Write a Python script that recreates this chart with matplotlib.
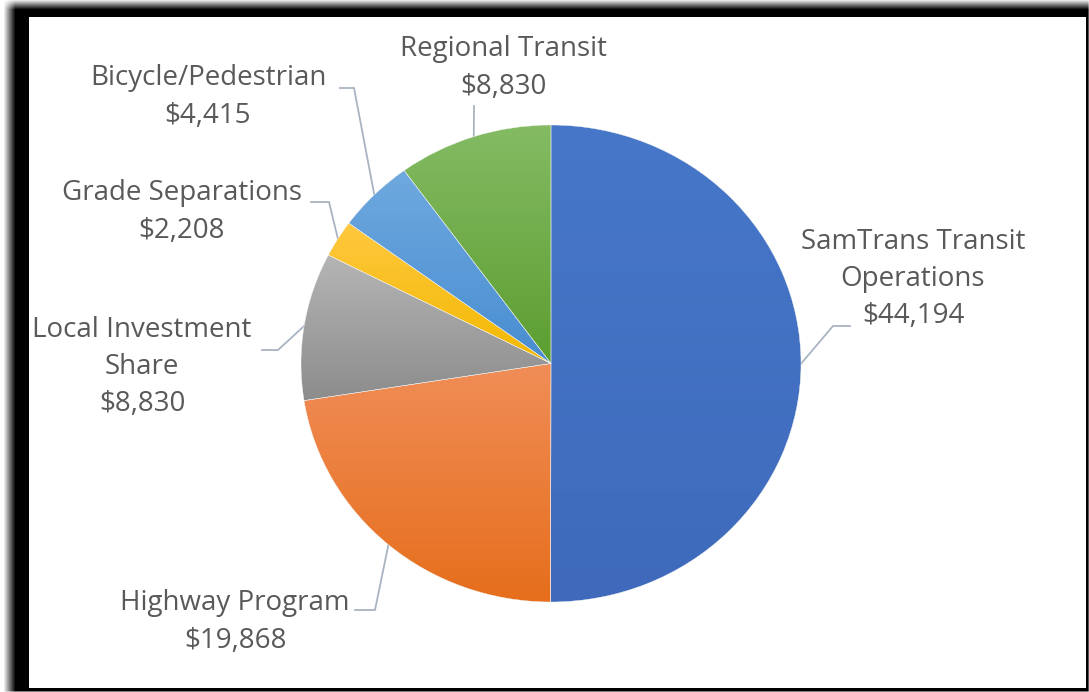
import numpy as np
import matplotlib.pyplot as plt
from matplotlib.colors import LinearSegmentedColormap

# data (clockwise from 12 o'clock)
categories = ['SamTrans Transit\nOperations', 'Highway Program', 'Local Investment\nShare',
              'Grade Separations', 'Bicycle/Pedestrian', 'Regional Transit']
values = [44194, 19868, 8830, 2208, 4415, 8830]
top_colors = ['#4677C9', '#F08D57', '#B5B5B5', '#FFC83F', '#6FA9DF', '#84BB64']
bot_colors = ['#3F6ABB', '#E66E1C', '#8C8C8C', '#F2B800', '#488DD1', '#5C9E30']

# label centre + leader elbow, in image pixels
label_pos = [(913, 279), (235, 622), (142, 367), (182, 212), (208, 97), (503, 68)]
elbows = [[(850, 326), (833, 326)], [(355, 610), (375, 610)], [(262, 350), (278, 350)],
          [(311, 202), (329, 202)], [(340, 88), (354, 88)], [(474, 106)]]

W, H = 1089, 692
fig = plt.figure(figsize=(W / 100, H / 100), dpi=100)

# frame with soft shadow on top / left
bg = fig.add_axes([0, 0, 1, 1])
xx, yy = np.meshgrid(np.arange(W), np.arange(H))
dark = np.clip((xx - 3) / 12.0, 0, 1) * np.clip((yy + 1) / 10.0, 0, 1)
dark *= np.clip((1090 - xx) / 3.0, 0, 1) * np.clip((692 - yy) / 2.0, 0, 1)
inner = (xx >= 29) & (xx <= 1085) & (yy >= 17) & (yy <= 687)
dark[inner] = 0
img = 1 - dark
bg.imshow(np.dstack([img, img, img]), extent=(0, W, H, 0), interpolation='bilinear')
bg.set_xlim(0, W)
bg.set_ylim(H, 0)
bg.axis('off')

# pie (slightly stretched horizontally like the source)
ax = fig.add_axes([301 / W, (H - 602) / H, 500 / W, 477 / H])
wedges, _ = ax.pie(values, startangle=90, counterclock=False, radius=1,
                   wedgeprops=dict(linewidth=0.3, edgecolor='#F4F4F4'))
ax.set_aspect('auto')
ax.axis('off')

grad = np.linspace(0, 1, 256).reshape(-1, 1)
for w, c1, c2 in zip(wedges, top_colors, bot_colors):
    bb = w.get_path().get_extents()
    cmap = LinearSegmentedColormap.from_list('g', [c1, c2])
    im = ax.imshow(grad, cmap=cmap, aspect='auto', extent=(bb.x0, bb.x1, bb.y0, bb.y1),
                   origin='upper', zorder=1)
    im.set_clip_path(w)
    w.set_facecolor('none')
    w.set_zorder(3)
ax.set_xlim(-1, 1)
ax.set_ylim(-1, 1)

# labels and leader lines
fig.canvas.draw()
for w, v, name, (tx, ty), elb in zip(wedges, values, categories, label_pos, elbows):
    mid = np.deg2rad((w.theta1 + w.theta2) / 2)
    px, py = ax.transData.transform((np.cos(mid), np.sin(mid)))
    anchor = (px, H - py)
    pts = elb + [anchor]
    bg.plot([p[0] for p in pts], [p[1] for p in pts], color='#A9B4C2', lw=1.3,
            solid_joinstyle='miter', zorder=5)
    bg.text(tx, ty, '%s\n$%s' % (name, format(v, ',')), ha='center', va='center',
            multialignment='center', fontsize=20, color='#595959', family='Open Sans',
            linespacing=1.45, zorder=6)

fig.savefig('out.png', dpi=100)
